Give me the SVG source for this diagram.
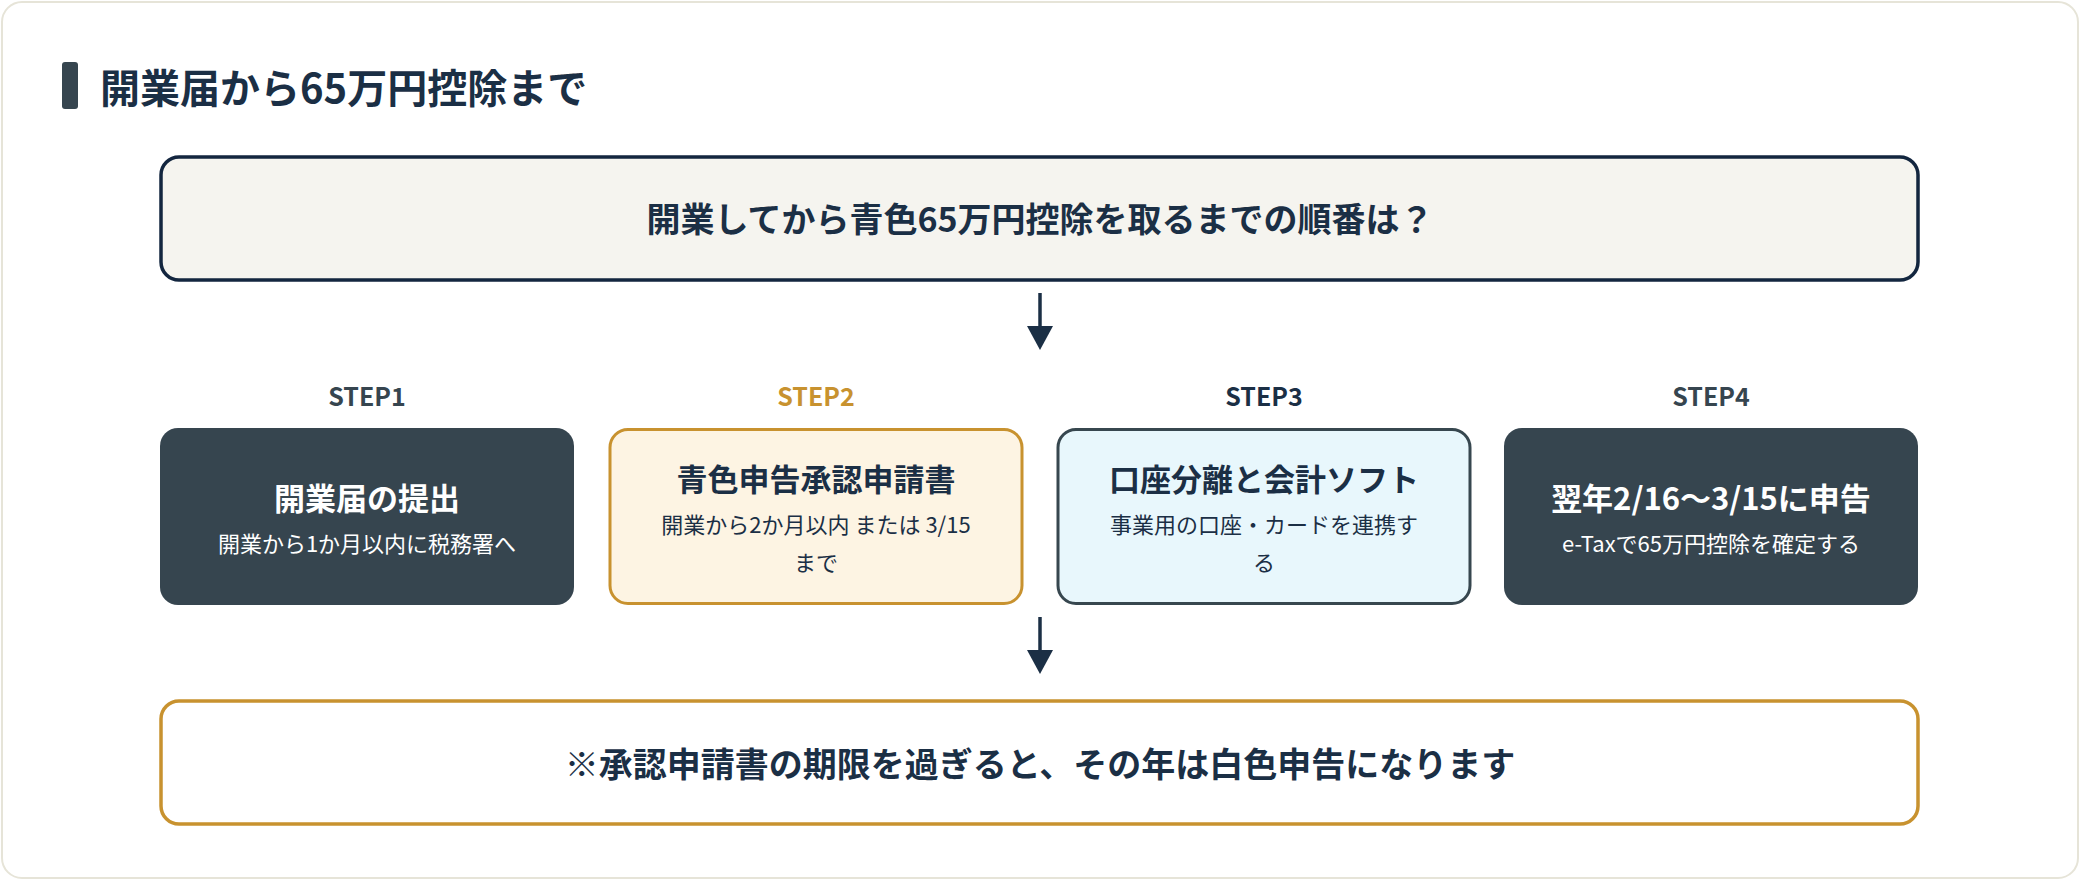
<svg xmlns="http://www.w3.org/2000/svg" width="2080" height="880" viewBox="0 0 2080 880">
<style>
text{font-family:"Noto Sans CJK JP","Noto Sans",sans-serif;text-anchor:middle}
.b{font-weight:700}
.navy{fill:#1b2f45}
.w{fill:#ffffff}
.st{font-size:25px;font-weight:700}
.t{font-size:31px;font-weight:700}
.s{font-size:22px}
</style>
<defs>
<marker id="ah" markerWidth="10" markerHeight="10" refX="5" refY="5" orient="auto" markerUnits="userSpaceOnUse"><path d="M0,0 L10,5 L0,10 Z" fill="#1b2f45"/></marker>
</defs>
<rect x="2" y="2" width="2076" height="876" rx="20" fill="#ffffff" stroke="#e6e4d8" stroke-width="2"/>
<rect x="62" y="62" width="16" height="47" rx="3" fill="#36454f"/>
<text x="100" y="103" class="b navy" style="font-size:40px;text-anchor:start">開業届から65万円控除まで</text>
<g id="question">
<rect x="161" y="157" width="1757" height="123" rx="18" fill="#f5f4ef" stroke="#13263f" stroke-width="3.5"/>
<text x="1040" y="232" class="b navy" style="font-size:34px">開業してから青色65万円控除を取るまでの順番は？</text>
</g>
<g id="connectors" stroke="#1b2f45" stroke-width="3.5" fill="#1b2f45">
<line x1="1040" y1="293" x2="1040" y2="330"/>
<path d="M1027,326 L1053,326 L1040,350 Z" stroke="none"/>
<line x1="1040" y1="617" x2="1040" y2="654"/>
<path d="M1027,650 L1053,650 L1040,674 Z" stroke="none"/>
</g>
<g id="step1">
<text x="367" y="406" class="st" fill="#36454f">STEP1</text>
<rect x="160" y="428" width="414" height="177" rx="18" fill="#36454f"/>
<text x="367" y="510" class="t w">開業届の提出</text>
<text x="367" y="552" class="s w">開業から1か月以内に税務署へ</text>
</g>
<g id="step2">
<text x="816" y="406" class="st" fill="#c8922f">STEP2</text>
<rect x="610" y="429.5" width="412" height="174" rx="18" fill="#fdf4e3" stroke="#c8922f" stroke-width="3"/>
<text x="816" y="491" class="t navy">青色申告承認申請書</text>
<text x="816" y="533" class="s navy">開業から2か月以内 または 3/15</text>
<text x="816" y="571" class="s navy">まで</text>
</g>
<g id="step3">
<text x="1264" y="406" class="st navy">STEP3</text>
<rect x="1058" y="429.5" width="412" height="174" rx="18" fill="#e8f7fc" stroke="#37474f" stroke-width="3"/>
<text x="1264" y="491" class="t navy">口座分離と会計ソフト</text>
<text x="1264" y="533" class="s navy">事業用の口座・カードを連携す</text>
<text x="1264" y="571" class="s navy">る</text>
</g>
<g id="step4">
<text x="1711" y="406" class="st" fill="#36454f">STEP4</text>
<rect x="1504" y="428" width="414" height="177" rx="18" fill="#36454f"/>
<text x="1711" y="510" class="t w">翌年2/16〜3/15に申告</text>
<text x="1711" y="552" class="s w">e-Taxで65万円控除を確定する</text>
</g>
<g id="note">
<rect x="161" y="701" width="1757" height="123" rx="18" fill="#ffffff" stroke="#c8922f" stroke-width="3.5"/>
<text x="1040" y="777" class="b navy" style="font-size:34px">※承認申請書の期限を過ぎると、その年は白色申告になります</text>
</g>
</svg>
